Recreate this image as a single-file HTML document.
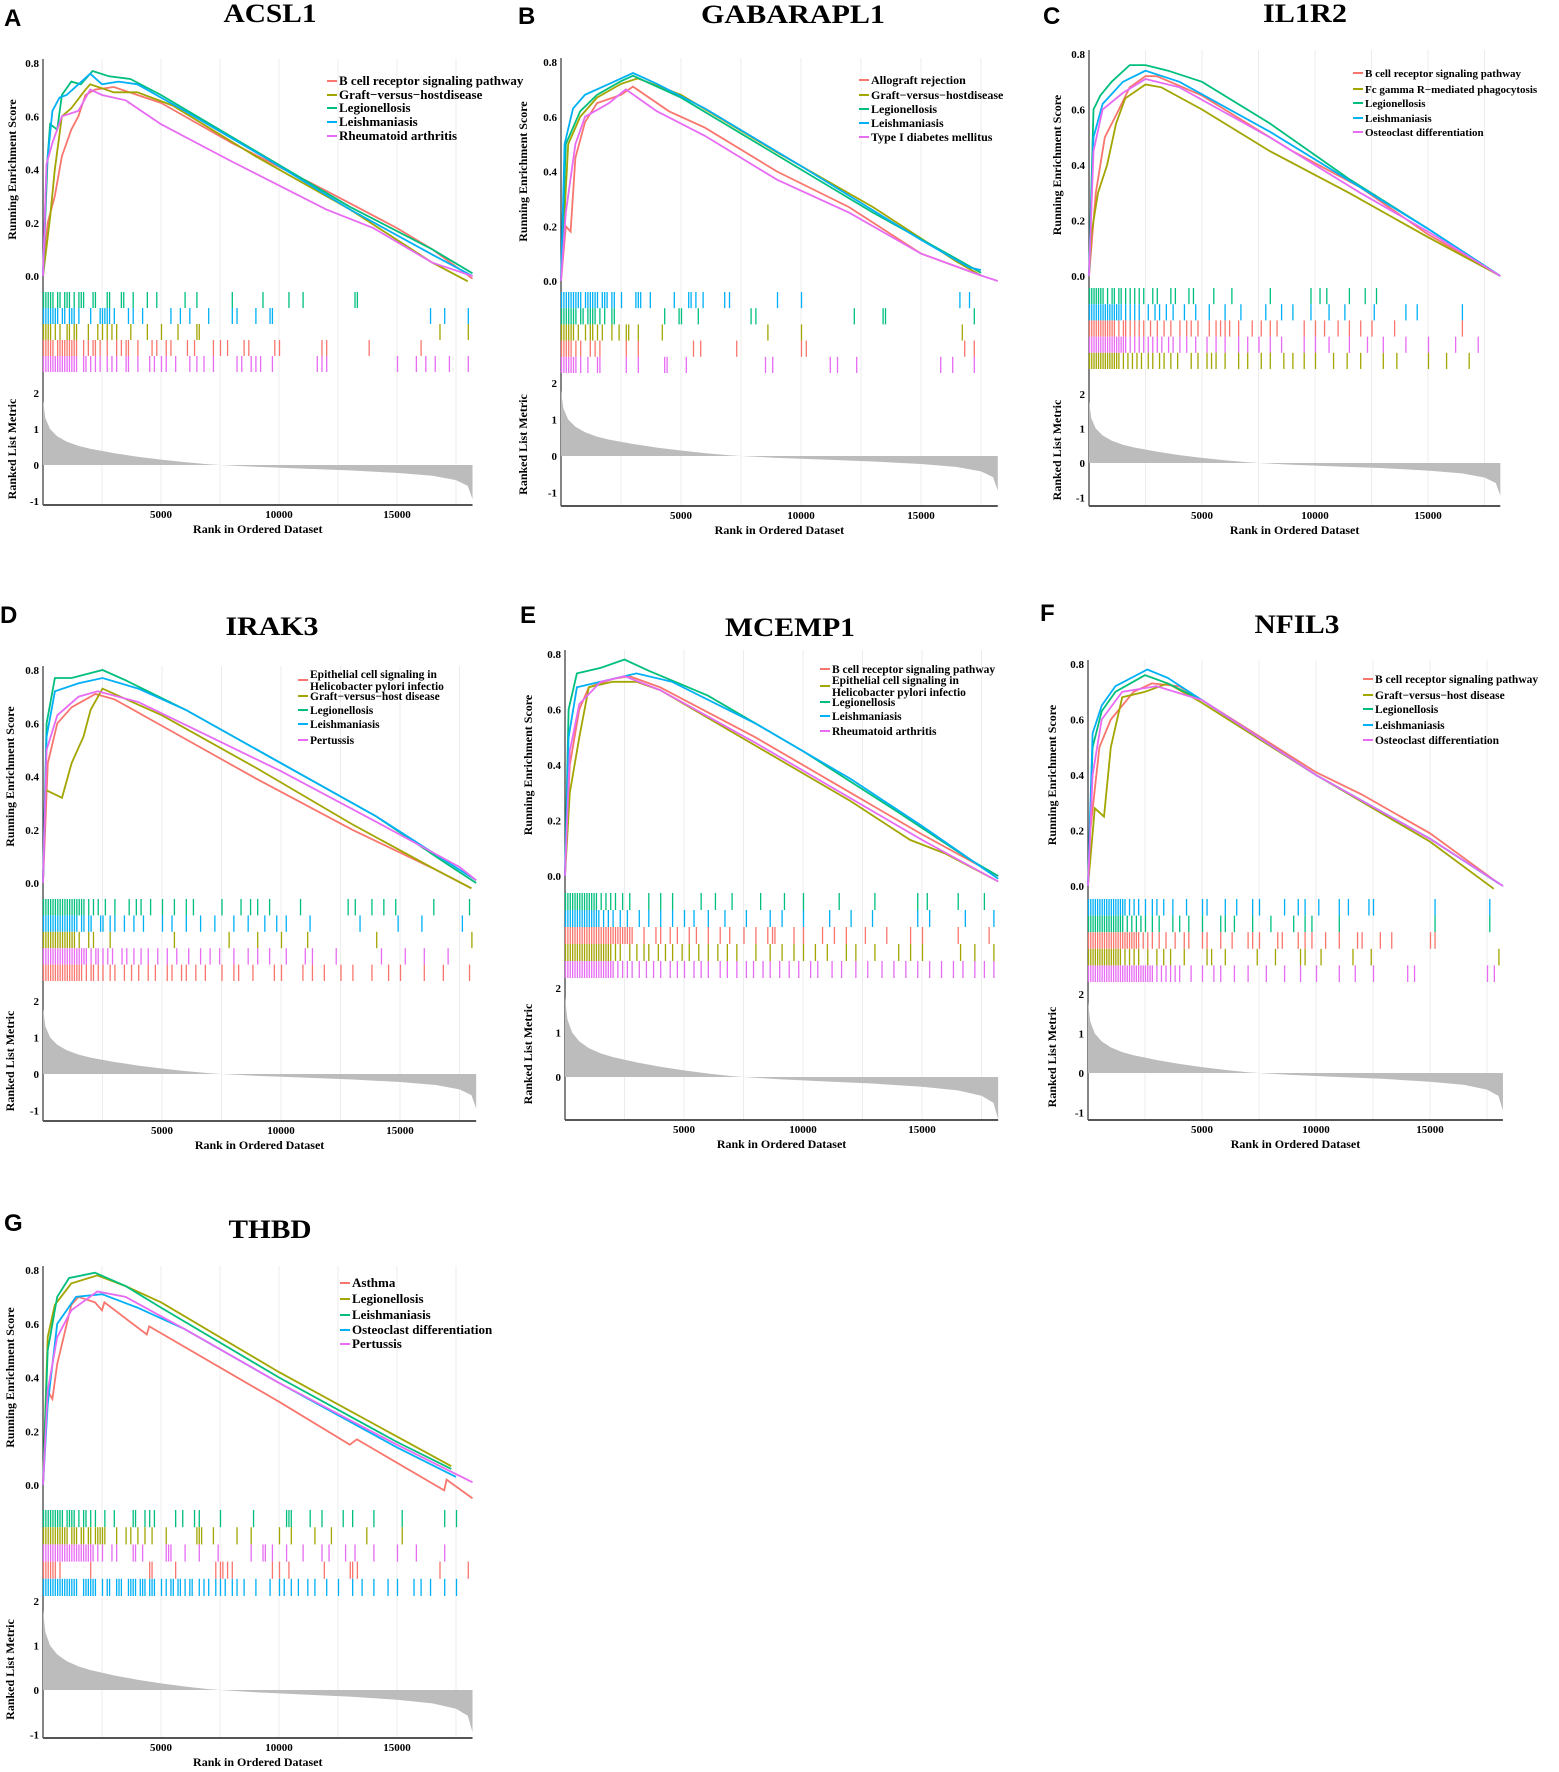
<!DOCTYPE html>
<html><head><meta charset="utf-8"><style>
html,body{margin:0;padding:0;background:#fff;}
svg{display:block;font-family:"Liberation Serif",serif;}
</style></head><body>
<svg id="chart" width="1559" height="1772" viewBox="0 0 1559 1772">
<rect width="1559" height="1772" fill="#fff"/>
</svg>
<script>
// ---- shared ranked-list metric ----
const rankMetricRanks=[0,100,300,600,1000,1500,2000,3000,4000,5000,6000,7000,7500,9000,11000,13000,15000,16500,17500,18000,18200];
const rankMetricValues=[1.8,1.3,1.0,0.8,0.65,0.53,0.45,0.33,0.23,0.15,0.08,0.02,0,-0.05,-0.1,-0.15,-0.22,-0.3,-0.42,-0.58,-0.95];
const xTickValues=[5000,10000,15000];
const esTickValues=[0,0.2,0.4,0.6,0.8];
const metricTickValues=[-1,0,1,2];

// ---- running ES curves [rank, ES] ----
const A_red=[[0,0],[200,0.2],[500,0.3],[800,0.45],[1200,0.55],[1500,0.6],[1800,0.68],[2200,0.7],[3000,0.71],[4000,0.68],[5000,0.65],[8000,0.5],[12000,0.32],[15000,0.18],[16500,0.1],[18200,-0.01]];
const A_olive=[[0,0],[300,0.22],[500,0.4],[800,0.6],[1200,0.63],[1800,0.7],[2000,0.72],[3000,0.69],[4000,0.69],[5500,0.64],[9000,0.45],[13000,0.25],[16500,0.05],[18000,-0.02]];
const A_green=[[0,0],[200,0.45],[300,0.57],[600,0.55],[800,0.68],[1200,0.73],[1600,0.72],[2100,0.77],[2800,0.75],[3700,0.74],[5000,0.68],[9000,0.47],[13000,0.26],[16500,0.1],[18200,0.01]];
const A_blue=[[0,0],[150,0.4],[400,0.62],[700,0.67],[1000,0.68],[1500,0.72],[2000,0.76],[2500,0.72],[3200,0.73],[4000,0.72],[6000,0.62],[9500,0.44],[13000,0.25],[16500,0.08],[18200,0]];
const A_magenta=[[0,0],[150,0.42],[400,0.5],[800,0.6],[1500,0.62],[2000,0.7],[2500,0.68],[3500,0.66],[5000,0.57],[8000,0.43],[12000,0.25],[14000,0.18],[16500,0.05],[18200,0]];

const B_red=[[0,0],[200,0.2],[400,0.18],[600,0.45],[1000,0.58],[1500,0.65],[2500,0.68],[3000,0.71],[4500,0.62],[6000,0.56],[9000,0.4],[12000,0.27],[15000,0.1],[17500,0.02]];
const B_olive=[[0,0],[300,0.5],[800,0.6],[1500,0.67],[2500,0.72],[3200,0.74],[5000,0.68],[9000,0.47],[13000,0.27],[16500,0.07],[17500,0.02]];
const B_green=[[0,0],[200,0.5],[800,0.62],[1500,0.68],[2500,0.73],[3000,0.75],[5000,0.67],[9000,0.46],[13000,0.25],[16500,0.08],[17500,0.03]];
const B_blue=[[0,0],[150,0.5],[500,0.63],[1000,0.68],[2000,0.72],[3000,0.76],[4000,0.72],[6000,0.63],[10000,0.42],[15000,0.15],[17000,0.05],[17500,0.04]];
const B_magenta=[[0,0],[200,0.25],[600,0.5],[1000,0.6],[2000,0.65],[2700,0.7],[4000,0.62],[6000,0.53],[9000,0.37],[12000,0.25],[15000,0.1],[17500,0.02],[18200,0]];

const C_red=[[0,0],[300,0.3],[700,0.5],[1200,0.58],[1800,0.68],[2500,0.72],[3000,0.72],[5000,0.65],[9000,0.45],[12000,0.32],[15000,0.15],[18200,0]];
const C_olive=[[0,0],[100,0.15],[400,0.3],[800,0.4],[1200,0.55],[1600,0.64],[2500,0.69],[3200,0.68],[5000,0.6],[8000,0.45],[11500,0.3],[15000,0.14],[18200,0]];
const C_green=[[0,0],[200,0.6],[500,0.65],[1000,0.7],[1800,0.76],[2500,0.76],[3500,0.74],[5000,0.7],[8000,0.55],[11500,0.35],[15000,0.17],[18200,0]];
const C_blue=[[0,0],[200,0.5],[600,0.62],[1500,0.7],[2500,0.74],[4000,0.7],[8000,0.52],[12000,0.32],[15000,0.17],[18200,0]];
const C_magenta=[[0,0],[200,0.45],[600,0.6],[1500,0.66],[2500,0.71],[4000,0.68],[8000,0.5],[12000,0.3],[15000,0.16],[18200,0]];

const D_red=[[0,0],[200,0.45],[600,0.6],[1200,0.66],[2200,0.71],[3000,0.69],[5000,0.59],[9000,0.39],[13000,0.2],[16500,0.05],[18000,-0.02]];
const D_olive=[[0,0],[100,0.35],[800,0.32],[1200,0.45],[1700,0.55],[2000,0.65],[2500,0.73],[3500,0.69],[5000,0.63],[9000,0.43],[13000,0.22],[16500,0.05],[18000,-0.02]];
const D_green=[[0,0],[150,0.6],[500,0.77],[1200,0.77],[2500,0.8],[3500,0.76],[6000,0.65],[10000,0.45],[14000,0.25],[17000,0.07],[18200,0]];
const D_blue=[[0,0],[150,0.55],[500,0.72],[1500,0.75],[2500,0.77],[4000,0.73],[6000,0.65],[10000,0.45],[14000,0.25],[17500,0.05],[18200,0.01]];
const D_magenta=[[0,0],[150,0.5],[600,0.63],[1500,0.7],[2300,0.72],[4000,0.68],[7000,0.55],[10000,0.42],[14000,0.23],[17500,0.06],[18200,0.01]];

const E_red=[[0,0],[200,0.4],[600,0.6],[1000,0.68],[2000,0.71],[2700,0.72],[4000,0.68],[8000,0.5],[12000,0.3],[15000,0.15],[18200,0]];
const E_olive=[[0,0],[200,0.3],[600,0.5],[1000,0.68],[2000,0.7],[3000,0.7],[4000,0.67],[8000,0.47],[12000,0.27],[14500,0.13],[16000,0.08],[18200,-0.02]];
const E_green=[[0,0],[150,0.6],[500,0.73],[1500,0.75],[2500,0.78],[3500,0.74],[6000,0.65],[10000,0.45],[14000,0.23],[17000,0.06],[18200,0]];
const E_blue=[[0,0],[150,0.5],[500,0.68],[1500,0.7],[3000,0.73],[4500,0.7],[8000,0.55],[12000,0.35],[15000,0.18],[18200,-0.01]];
const E_magenta=[[0,0],[200,0.45],[600,0.62],[1500,0.7],[2500,0.72],[4000,0.67],[8000,0.48],[12000,0.28],[15000,0.13],[18200,-0.02]];

const F_red=[[0,0],[100,0.2],[500,0.5],[1000,0.6],[2000,0.7],[2800,0.73],[4000,0.72],[5000,0.67],[10000,0.41],[12000,0.33],[15000,0.19],[18000,0.01]];
const F_olive=[[0,0],[300,0.28],[700,0.25],[1000,0.5],[1500,0.68],[2500,0.7],[3500,0.73],[5000,0.66],[10000,0.4],[15000,0.16],[17800,-0.01]];
const F_green=[[0,0],[200,0.5],[600,0.63],[1200,0.7],[2500,0.76],[3500,0.73],[5000,0.67],[10000,0.4],[15000,0.17],[18000,0.01]];
const F_blue=[[0,0],[200,0.55],[600,0.65],[1200,0.72],[2600,0.78],[3500,0.75],[5000,0.67],[10000,0.4],[15000,0.17],[18200,0]];
const F_magenta=[[0,0],[200,0.4],[600,0.6],[1500,0.7],[3000,0.72],[5000,0.67],[10000,0.4],[15000,0.17],[18200,0]];

const G_red=[[0,0],[200,0.35],[400,0.32],[600,0.45],[1200,0.67],[1500,0.7],[2200,0.68],[2500,0.65],[2600,0.68],[4400,0.56],[4500,0.59],[10000,0.31],[13000,0.15],[13300,0.17],[17000,-0.02],[17100,0.02],[18200,-0.05]];
const G_olive=[[0,0],[200,0.55],[500,0.67],[1200,0.75],[2300,0.78],[3500,0.74],[5000,0.68],[10000,0.42],[15000,0.18],[17300,0.07]];
const G_green=[[0,0],[200,0.5],[600,0.7],[1100,0.77],[2200,0.79],[3500,0.74],[5000,0.66],[10000,0.4],[15000,0.16],[17300,0.06]];
const G_blue=[[0,0],[200,0.3],[600,0.6],[1400,0.7],[2500,0.71],[4000,0.66],[6000,0.58],[10000,0.38],[15000,0.14],[17500,0.03]];
const G_magenta=[[0,0],[200,0.35],[600,0.55],[1200,0.65],[2300,0.72],[3500,0.7],[6000,0.58],[10000,0.38],[15000,0.15],[18200,0.01]];

// ---- hit positions (hundreds of ranks) ----
const A_green_hits=[0,1,2,3,4,6,7,9,10,11,13,15,16,17,21,22,27,28,33,34,38,44,48,60,65,80,93,104,110,132,133];
const A_blue_hits=[0,1,2,3,4,5,6,8,9,11,12,13,15,20,24,25,26,27,28,30,36,38,42,54,58,62,70,80,82,90,96,97,164,170,180];
const A_olive_hits=[0,1,2,3,5,7,10,11,13,14,19,23,25,27,29,31,37,44,50,57,65,66,168,180];
const A_red_hits=[0,1,2,3,4,6,7,8,9,10,11,12,13,14,17,19,21,22,24,27,31,33,35,36,40,46,48,52,54,61,64,72,75,78,85,87,98,100,118,120,138,160];
const A_magenta_hits=[0,1,2,3,4,5,6,7,8,9,10,11,12,13,14,17,18,20,22,24,27,29,31,35,36,40,45,47,50,52,56,62,65,68,72,82,84,88,90,92,97,116,118,120,150,158,162,166,172,180];

const B_blue_hits=[0,1,2,3,4,5,6,7,8,10,11,12,13,14,15,17,18,19,21,22,25,31,32,33,37,47,53,54,56,59,68,70,90,100,166,170];
const B_green_hits=[0,1,2,3,4,5,6,8,9,11,12,13,14,16,18,21,22,43,49,50,57,79,81,122,134,135,172];
const B_olive_hits=[0,1,2,3,4,5,7,10,12,13,15,17,21,24,27,28,32,42,86,100,167];
const B_red_hits=[0,1,2,3,4,6,8,12,14,16,27,32,55,58,73,100,102,168,172];
const B_magenta_hits=[0,1,2,3,4,5,6,8,11,15,16,27,32,43,44,52,85,88,112,115,123,158,163,172];

const C_green_hits=[0,1,2,3,4,5,6,8,10,11,13,14,16,18,20,22,24,28,30,36,38,44,46,55,63,80,98,102,105,115,122,127];
const C_blue_hits=[0,1,2,3,4,5,6,7,8,9,10,11,12,13,14,16,18,20,22,26,29,31,34,37,42,47,53,60,67,78,85,90,98,106,113,126,140,145,165];
const C_red_hits=[0,1,2,3,4,5,6,7,8,9,10,11,13,15,16,18,20,22,24,27,30,33,36,40,43,45,48,53,56,58,60,62,66,72,76,80,83,95,100,104,110,115,120,125,135,165];
const C_magenta_hits=[0,1,2,3,4,5,6,7,8,9,10,11,12,13,14,15,16,18,20,22,24,26,28,30,32,35,37,40,43,47,52,56,60,66,70,75,80,85,95,100,106,115,123,130,140,150,162,172];
const C_olive_hits=[0,1,2,3,4,5,6,7,8,9,10,11,12,13,15,17,19,21,23,26,28,31,33,36,39,45,48,52,54,56,60,66,70,76,80,86,90,95,100,108,114,120,130,136,150,158,168];

const D_green_hits=[0,1,2,3,4,5,6,7,8,9,10,11,12,13,14,15,16,17,19,21,23,26,30,36,39,41,45,50,55,60,63,75,83,87,90,95,108,128,131,138,143,148,164,179];
const D_blue_hits=[0,1,2,3,4,5,6,7,8,9,10,11,12,13,14,16,17,19,20,24,25,28,30,34,38,42,50,54,60,66,72,80,86,93,98,102,112,133,149,159,176];
const D_olive_hits=[0,1,2,3,4,5,6,7,8,9,10,11,12,13,15,19,21,28,55,78,90,100,111,140,180];
const D_magenta_hits=[0,1,2,3,4,5,6,7,8,9,10,11,12,13,14,15,16,17,18,20,22,23,25,27,29,33,35,38,41,44,48,52,56,61,66,70,74,80,86,90,95,102,110,113,123,142,152,160,170];
const D_red_hits=[0,1,2,3,4,5,6,7,8,9,10,11,12,13,14,15,16,18,20,21,23,25,28,30,34,37,40,44,47,52,54,58,60,64,68,75,80,82,88,97,100,109,113,118,125,130,138,145,150,160,168,179];

const E_green_hits=[0,1,2,3,4,5,6,7,8,9,10,11,12,13,15,17,19,21,24,27,35,40,45,57,63,70,82,92,100,115,130,148,152,165,176];
const E_blue_hits=[0,1,2,3,4,5,6,7,8,9,10,11,12,13,14,16,18,20,23,26,31,35,40,45,50,54,60,67,76,86,91,100,111,120,129,148,153,168,180];
const E_red_hits=[0,1,2,3,4,5,6,7,8,9,10,11,12,13,14,15,16,17,18,19,20,21,22,23,24,25,26,27,28,33,38,40,44,47,52,55,60,65,69,75,80,85,87,88,96,100,108,113,118,126,135,145,150,165,178];
const E_olive_hits=[0,1,2,3,4,5,6,7,8,9,10,11,12,13,14,15,16,17,18,19,21,23,27,30,33,35,39,42,45,49,52,56,60,64,68,72,80,86,91,96,100,105,110,118,122,130,140,145,150,166,172,180];
const E_magenta_hits=[0,1,2,3,4,5,6,7,8,9,10,11,12,13,14,15,16,17,18,19,20,22,24,26,28,31,34,37,40,44,47,50,54,57,60,65,68,72,76,79,83,86,90,94,98,103,106,112,116,122,127,133,138,143,148,153,158,163,167,172,176,180];

const F_blue_hits=[0,1,2,3,4,5,6,7,8,9,10,11,12,13,14,15,16,18,20,22,25,28,30,33,37,43,50,52,60,65,72,75,86,92,95,101,110,114,123,125,152,176];
const F_green_hits=[0,1,2,3,4,5,6,7,8,9,10,11,12,13,14,15,17,19,21,23,25,28,31,37,40,44,50,58,60,64,72,80,90,95,98,110,152,176];
const F_red_hits=[0,1,2,3,4,5,6,7,8,9,10,11,12,13,14,15,16,17,18,19,20,21,22,24,26,28,31,34,38,42,44,50,52,58,63,70,72,75,83,85,92,95,98,104,110,118,120,128,133,150,152];
const F_olive_hits=[0,1,2,3,4,5,6,7,8,9,10,11,12,13,14,16,18,20,22,26,30,33,36,42,52,54,60,74,82,93,95,102,116,124,180];
const F_magenta_hits=[0,1,2,3,4,5,6,7,8,9,10,11,12,13,14,15,16,17,18,19,20,21,22,23,24,25,26,27,28,30,32,34,36,38,40,45,50,55,58,64,70,78,86,93,100,110,117,125,140,143,175,178];

const G_green_hits=[0,1,2,3,4,5,6,7,8,10,11,12,13,15,17,18,20,22,26,30,38,39,43,45,47,56,59,64,66,75,89,103,104,105,113,118,127,131,140,152,170,175];
const G_olive_hits=[0,1,2,3,4,5,6,7,8,9,10,12,13,14,16,17,19,20,22,23,24,25,26,31,35,37,40,43,46,52,65,66,67,72,82,88,100,105,115,122,137,152];
const G_magenta_hits=[0,1,2,3,4,5,6,7,8,9,10,11,12,13,14,15,16,17,18,19,20,21,23,25,29,31,38,39,42,52,53,54,60,66,74,88,93,94,97,103,110,118,121,128,132,140,150,158,170];
const G_red_hits=[0,1,2,3,4,5,7,20,45,46,56,73,75,76,78,80,97,100,104,119,130,131,133,168,180];
const G_blue_hits=[0,1,2,3,4,5,6,7,8,9,10,11,12,13,14,17,18,19,20,21,22,25,27,28,31,32,33,36,37,38,39,41,42,43,45,46,47,50,52,54,55,57,58,60,62,63,66,68,70,73,75,77,80,82,85,90,96,100,102,105,108,112,115,120,125,131,135,140,146,150,157,160,164,170,175];

const COL={red:'#F8766D',olive:'#A3A500',green:'#00BF7D',blue:'#00B0F6',magenta:'#E76BF3'};
const panels=[
 {id:'A',gene:'ACSL1',lx:4,ly:26,tx:270,ty:22,tw:93,x0:43,p5:118,y8:63,y0:276,tt:292,tb:372,r2:393,r0:465,ax:505,yl:12,
  rows:['green','blue','olive','red','magenta'],curves:{red:A_red,olive:A_olive,green:A_green,blue:A_blue,magenta:A_magenta},
  hits:{red:A_red_hits,olive:A_olive_hits,green:A_green_hits,blue:A_blue_hits,magenta:A_magenta_hits},
  leg:{x:327,ys:[81,95,108,122,136],fs:13,labels:['B cell receptor signaling pathway','Graft−versus−hostdisease','Legionellosis','Leishmaniasis','Rheumatoid arthritis']},mt:[-1,0,1,2]},
 {id:'B',gene:'GABARAPL1',lx:518,ly:24,tx:793,ty:23,tw:184,x0:561,p5:120,y8:62,y0:281,tt:292,tb:373,r2:383,r0:456,ax:506,yl:523,
  rows:['blue','green','olive','red','magenta'],curves:{red:B_red,olive:B_olive,green:B_green,blue:B_blue,magenta:B_magenta},
  hits:{red:B_red_hits,olive:B_olive_hits,green:B_green_hits,blue:B_blue_hits,magenta:B_magenta_hits},
  leg:{x:859,ys:[80,95,109,123,137],fs:12,labels:['Allograft rejection','Graft−versus−hostdisease','Legionellosis','Leishmaniasis','Type I diabetes mellitus']},mt:[-1,0,1,2]},
 {id:'C',gene:'IL1R2',lx:1043,ly:24,tx:1305,ty:22,tw:84,x0:1089,p5:113,y8:54,y0:276,tt:288,tb:369,r2:394,r0:463,ax:506,yl:1057,
  rows:['green','blue','red','magenta','olive'],curves:{red:C_red,olive:C_olive,green:C_green,blue:C_blue,magenta:C_magenta},
  hits:{red:C_red_hits,olive:C_olive_hits,green:C_green_hits,blue:C_blue_hits,magenta:C_magenta_hits},
  leg:{x:1353,ys:[73,89,103,118,132],fs:11,labels:['B cell receptor signaling pathway','Fc gamma R−mediated phagocytosis','Legionellosis','Leishmaniasis','Osteoclast differentiation']},mt:[-1,0,1,2]},
 {id:'D',gene:'IRAK3',lx:0,ly:623,tx:272,ty:635,tw:93,x0:43,p5:119,y8:670,y0:883,tt:899,tb:981,r2:1001,r0:1074,ax:1121,yl:10,
  rows:['green','blue','olive','magenta','red'],curves:{red:D_red,olive:D_olive,green:D_green,blue:D_blue,magenta:D_magenta},
  hits:{red:D_red_hits,olive:D_olive_hits,green:D_green_hits,blue:D_blue_hits,magenta:D_magenta_hits},
  leg:{x:298,ys:[680,696,710,724,740],fs:11.5,labels:['Epithelial cell signaling in\nHelicobacter pylori infectio','Graft−versus−host disease','Legionellosis','Leishmaniasis','Pertussis']},mt:[-1,0,1,2]},
 {id:'E',gene:'MCEMP1',lx:520,ly:623,tx:790,ty:636,tw:130,x0:565,p5:119,y8:654,y0:876,tt:893,tb:978,r2:988,r0:1077,ax:1120,yl:528,
  rows:['green','blue','red','olive','magenta'],curves:{red:E_red,olive:E_olive,green:E_green,blue:E_blue,magenta:E_magenta},
  hits:{red:E_red_hits,olive:E_olive_hits,green:E_green_hits,blue:E_blue_hits,magenta:E_magenta_hits},
  leg:{x:820,ys:[669,686,702,716,731],fs:11.5,labels:['B cell receptor signaling pathway','Epithelial cell signaling in\nHelicobacter pylori infectio','Legionellosis','Leishmaniasis','Rheumatoid arthritis']},mt:[0,1,2]},
 {id:'F',gene:'NFIL3',lx:1040,ly:621,tx:1297,ty:633,tw:85,x0:1088,p5:114,y8:664,y0:886,tt:899,tb:982,r2:994,r0:1073,ax:1120,yl:1052,
  rows:['blue','green','red','olive','magenta'],curves:{red:F_red,olive:F_olive,green:F_green,blue:F_blue,magenta:F_magenta},
  hits:{red:F_red_hits,olive:F_olive_hits,green:F_green_hits,blue:F_blue_hits,magenta:F_magenta_hits},
  leg:{x:1363,ys:[679,695,709,725,740],fs:11.5,labels:['B cell receptor signaling pathway','Graft−versus−host disease','Legionellosis','Leishmaniasis','Osteoclast differentiation']},mt:[-1,0,1,2]},
 {id:'G',gene:'THBD',lx:4,ly:1231,tx:270,ty:1238,tw:83,x0:43,p5:118,y8:1270,y0:1485,tt:1510,tb:1596,r2:1601,r0:1690,ax:1738,yl:10,
  rows:['green','olive','magenta','red','blue'],curves:{red:G_red,olive:G_olive,green:G_green,blue:G_blue,magenta:G_magenta},
  hits:{red:G_red_hits,olive:G_olive_hits,green:G_green_hits,blue:G_blue_hits,magenta:G_magenta_hits},
  leg:{x:340,ys:[1283,1299,1315,1330,1344],fs:13,labels:['Asthma','Legionellosis','Leishmaniasis','Osteoclast differentiation','Pertussis']},mt:[-1,0,1,2]}
];
const NS='http://www.w3.org/2000/svg';
const svg=document.getElementById('chart');
function mk(tag,attrs,parent){const e=document.createElementNS(NS,tag);for(const k in attrs)e.setAttribute(k,attrs[k]);(parent||svg).appendChild(e);return e;}
const NMAX=18200;
const order=['red','olive','green','blue','magenta'];
panels.forEach(p=>{
  const g=mk('g',{});
  
  
  const X=r=>p.x0+r/5000*p.p5;
  const Y=v=>p.y0-v/0.8*(p.y0-p.y8);
  const R=v=>p.r0-v*(p.r0-p.r2)/2;
  const xEnd=X(NMAX);
  for(let r=2500;r<NMAX;r+=2500){
    const l=mk('line',{x1:X(r),x2:X(r),y1:p.y8-4,y2:p.ax,stroke:'#ececec','stroke-width':1},g);
    
    
  }
  const lt=mk('text',{x:p.lx,y:p.ly,'font-family':'Liberation Sans, sans-serif','font-weight':'bold','font-size':24},g);
  lt.textContent=p.id;
  
  
  const tt=mk('text',{x:p.tx,y:p.ty,'text-anchor':'middle','font-weight':'bold','font-size':26,textLength:p.tw,lengthAdjust:'spacingAndGlyphs'},g);
  tt.textContent=p.gene;
  
  
  const la=mk('line',{x1:p.x0,x2:p.x0,y1:p.y8-4,y2:p.ax,stroke:'#333','stroke-width':1.2},g);
  
  
  const ba=mk('line',{x1:p.x0,x2:xEnd,y1:p.ax,y2:p.ax,stroke:'#555','stroke-width':2},g);
  
  
  esTickValues.forEach(v=>{
    const t=mk('text',{x:p.x0-4,y:Y(v)+4,'text-anchor':'end','font-weight':'bold','font-size':11},g);
    t.textContent=v.toFixed(1);
    
    
  });
  p.mt.forEach(v=>{
    const t=mk('text',{x:p.x0-4,y:R(v)+4,'text-anchor':'end','font-weight':'bold','font-size':11},g);
    t.textContent=v;
    
    
  });
  xTickValues.forEach(v=>{
    const t=mk('text',{x:X(v),y:p.ax+13,'text-anchor':'middle','font-weight':'bold','font-size':11},g);
    t.textContent=v;
    
    
  });
  const xt=mk('text',{x:(p.x0+xEnd)/2,y:p.ax+28,'text-anchor':'middle','font-weight':'bold','font-size':12},g);
  xt.textContent='Rank in Ordered Dataset';
  
  
  const yc=(p.y8+p.y0)/2;
  const yt=mk('text',{x:0,y:0,'text-anchor':'middle','font-weight':'bold','font-size':12,transform:`translate(${p.yl+4},${yc}) rotate(-90)`},g);
  yt.textContent='Running Enrichment Score';
  
  
  const yc2=(p.r2+p.ax)/2;
  const yt2=mk('text',{x:0,y:0,'text-anchor':'middle','font-weight':'bold','font-size':12,transform:`translate(${p.yl+4},${yc2}) rotate(-90)`},g);
  yt2.textContent='Ranked List Metric';
  
  
  let d=`M${X(0)},${R(0)}`;
  rankMetricRanks.forEach((r,i)=>{d+=` L${X(r)},${R(rankMetricValues[i])}`;});
  d+=` L${X(NMAX)},${R(0)} Z`;
  const rf=mk('path',{d:d,fill:'#bcbcbc',stroke:'none'},g);
  
  
  const rh=(p.tb-p.tt)/5;
  p.rows.forEach((c,ri)=>{
    const y1=p.tt+ri*rh, y2=y1+rh;
    p.hits[c].forEach(h=>{
      const l=mk('line',{x1:X(h*100)+0.5,x2:X(h*100)+0.5,y1:y1,y2:y2,stroke:COL[c],'stroke-width':1.3},g);
      
      
    });
  });
  order.forEach(c=>{
    const pts=p.curves[c].map(q=>X(q[0]).toFixed(1)+','+Y(q[1]).toFixed(1)).join(' ');
    const pl=mk('polyline',{points:pts,fill:'none',stroke:COL[c],'stroke-width':1.8},g);
    
    
  });
  p.leg.labels.forEach((lab,i)=>{
    const y=p.leg.ys[i];
    const ln=mk('line',{x1:p.leg.x,x2:p.leg.x+10,y1:y,y2:y,stroke:COL[order[i]],'stroke-width':2},g);
    
    
    const parts=lab.split('\n');
    parts.forEach((s,k)=>{
      const off=parts.length>1?(k===0?-6:6):0;
      const t=mk('text',{x:p.leg.x+12,y:y+4+off,'font-weight':'bold','font-size':p.leg.fs},g);
      t.textContent=s;
      
      
    });
  });
});
</script>
</body></html>
